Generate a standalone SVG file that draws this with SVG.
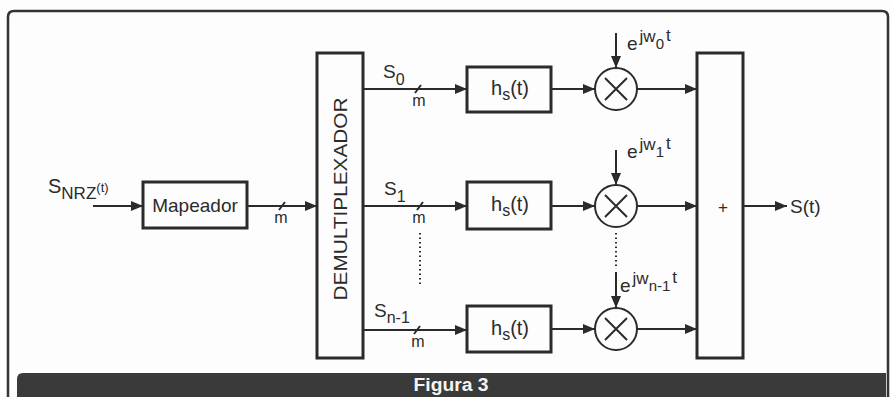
<svg xmlns="http://www.w3.org/2000/svg" width="891" height="397" viewBox="0 0 891 397">
<defs>
<style>
.box{fill:none;stroke:#2b2b2b;stroke-width:3}
.ln{fill:none;stroke:#2b2b2b;stroke-width:2}
.dot{fill:none;stroke:#2b2b2b;stroke-width:2;stroke-dasharray:1.5 3}
.t{font-family:"Liberation Sans",Arial,sans-serif;fill:#2b2b2b}
</style>
<marker id="ah" viewBox="0 0 12 10" refX="12" refY="5" markerWidth="12" markerHeight="10" markerUnits="userSpaceOnUse" orient="auto">
<path d="M0,0 L12,5 L0,10 z" fill="#2b2b2b"/>
</marker>
</defs>
<rect x="0" y="0" width="891" height="397" fill="#fdfdfd"/>
<path d="M8,397 V17 Q8,11 14,11 H882 Q888,11 888,17 V397" fill="none" stroke="#333" stroke-width="2.5"/>
<path d="M17,397 V379 Q17,373 23,373 H886 V397 Z" fill="#3a3a3a"/>
<text x="451" y="391" text-anchor="middle" font-family="'Liberation Sans',Arial,sans-serif" font-weight="bold" font-size="18" fill="#f4f4f4" textLength="75" lengthAdjust="spacingAndGlyphs">Figura 3</text>

<g id="input-label">
<text class="t" x="48" y="193" font-size="20">S<tspan font-size="17" dy="6">NRZ</tspan><tspan font-size="13" dy="-7">(t)</tspan></text>
</g>

<g id="mapeador">
<rect class="box" x="143" y="182" width="104" height="46"/>
<text class="t" x="195" y="212" font-size="19" text-anchor="middle">Mapeador</text>
</g>

<g id="demux">
<rect class="box" x="317" y="53" width="46" height="305"/>
<text class="t" transform="translate(347,199) rotate(-90)" font-size="18" text-anchor="middle" textLength="203" lengthAdjust="spacingAndGlyphs">DEMULTIPLEXADOR</text>
</g>

<g id="hs0">
<rect class="box" x="467" y="67" width="84" height="45"/>
<text class="t" x="491" y="95" font-size="20">h<tspan font-size="16" dy="5">s</tspan><tspan dy="-5">(t)</tspan></text>
</g>
<g id="hs1">
<rect class="box" x="467" y="182" width="84" height="47"/>
<text class="t" x="491" y="211" font-size="20">h<tspan font-size="16" dy="5">s</tspan><tspan dy="-5">(t)</tspan></text>
</g>
<g id="hs2">
<rect class="box" x="467" y="306" width="84" height="46"/>
<text class="t" x="491" y="335" font-size="20">h<tspan font-size="16" dy="5">s</tspan><tspan dy="-5">(t)</tspan></text>
</g>

<g id="mult0">
<circle class="ln" cx="616" cy="89" r="21"/>
<path class="ln" d="M605,78 L627,100 M627,78 L605,100"/>
</g>
<g id="mult1">
<circle class="ln" cx="616" cy="206" r="21"/>
<path class="ln" d="M605,195 L627,217 M627,195 L605,217"/>
</g>
<g id="mult2">
<circle class="ln" cx="616" cy="329" r="21"/>
<path class="ln" d="M605,318 L627,340 M627,318 L605,340"/>
</g>

<g id="sum">
<rect class="box" x="697" y="53" width="46" height="305"/>
<text class="t" x="723" y="213" font-size="17" text-anchor="middle">+</text>
</g>

<g id="labels">
<text class="t" x="383" y="78" font-size="19">S<tspan font-size="16" dy="7">0</tspan></text>
<text class="t" x="384" y="195" font-size="19">S<tspan font-size="16" dy="7">1</tspan></text>
<text class="t" x="374" y="317" font-size="19">S<tspan font-size="16" dy="6">n-1</tspan></text>
<text class="t" x="281" y="223" font-size="16" text-anchor="middle">m</text>
<text class="t" x="419" y="106" font-size="16" text-anchor="middle">m</text>
<text class="t" x="419" y="223" font-size="16" text-anchor="middle">m</text>
<text class="t" x="418" y="347" font-size="16" text-anchor="middle">m</text>
<text class="t" x="627" y="50" font-size="19">e<tspan font-size="17" dx="2" dy="-8">jw</tspan><tspan font-size="15" dy="7">0</tspan><tspan font-size="17" dx="2" dy="-8">t</tspan></text>
<text class="t" x="627" y="158" font-size="19">e<tspan font-size="17" dx="2" dy="-8">jw</tspan><tspan font-size="15" dy="7">1</tspan><tspan font-size="17" dx="2" dy="-8">t</tspan></text>
<text class="t" x="620" y="292" font-size="19">e<tspan font-size="17" dx="2" dy="-8">jw</tspan><tspan font-size="15" dy="7">n-1</tspan><tspan font-size="17" dx="2" dy="-8">t</tspan></text>
<text class="t" x="790" y="213" font-size="19">S(t)</text>
</g>

<g id="connectors">
<line class="ln" x1="93" y1="206" x2="143" y2="206" marker-end="url(#ah)"/>
<line class="ln" x1="247" y1="206" x2="317" y2="206" marker-end="url(#ah)"/>
<line class="ln" x1="363" y1="89" x2="467" y2="89" marker-end="url(#ah)"/>
<line class="ln" x1="363" y1="206" x2="467" y2="206" marker-end="url(#ah)"/>
<line class="ln" x1="363" y1="330" x2="467" y2="330" marker-end="url(#ah)"/>
<line class="ln" x1="551" y1="89" x2="595" y2="89" marker-end="url(#ah)"/>
<line class="ln" x1="551" y1="206" x2="595" y2="206" marker-end="url(#ah)"/>
<line class="ln" x1="551" y1="329" x2="595" y2="329" marker-end="url(#ah)"/>
<line class="ln" x1="637" y1="89" x2="697" y2="89" marker-end="url(#ah)"/>
<line class="ln" x1="637" y1="206" x2="697" y2="206" marker-end="url(#ah)"/>
<line class="ln" x1="637" y1="329" x2="697" y2="329" marker-end="url(#ah)"/>
<line class="ln" x1="743" y1="206" x2="787" y2="206" marker-end="url(#ah)"/>
<line class="ln" x1="616" y1="33" x2="616" y2="68" marker-end="url(#ah)"/>
<line class="ln" x1="616" y1="150" x2="616" y2="185" marker-end="url(#ah)"/>
<line class="ln" x1="616" y1="272" x2="616" y2="308" marker-end="url(#ah)"/>
<path class="ln" d="M279,210 L285,202 M415,93 L421,85 M417,210 L423,202 M414,334 L420,326"/>
<line class="dot" x1="420" y1="233" x2="420" y2="286"/>
<line class="dot" x1="616" y1="233" x2="616" y2="269"/>
</g>
</svg>
